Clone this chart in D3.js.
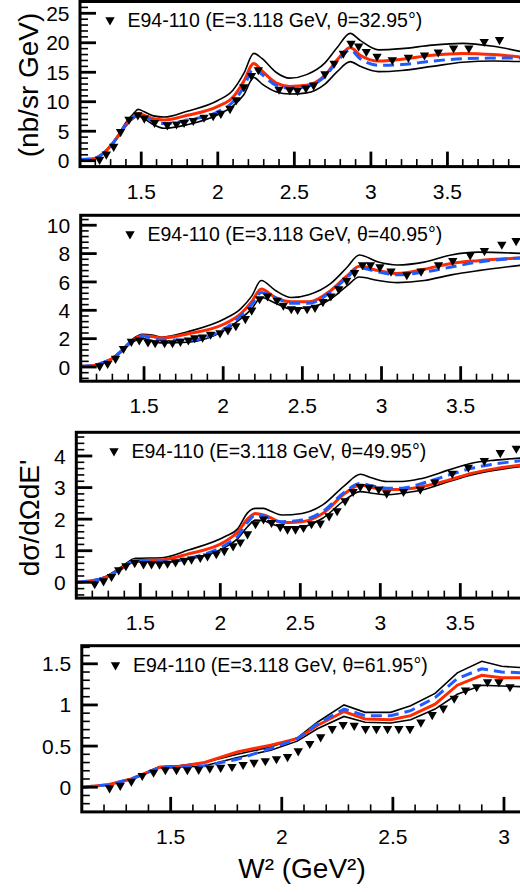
<!DOCTYPE html>
<html><head><meta charset="utf-8">
<script src="https://cdn.jsdelivr.net/npm/d3@7"></script>
<style>body{margin:0;background:#fff}svg{display:block}text{font-family:"Liberation Sans",Arial,Helvetica,sans-serif;fill:#000}</style>
</head><body>
<script>
// ---------- data ----------
const legendLabels = ["E94-110 (E=3.118 GeV, θ=32.95°)","E94-110 (E=3.118 GeV, θ=40.95°)","E94-110 (E=3.118 GeV, θ=49.95°)","E94-110 (E=3.118 GeV, θ=61.95°)"];
const xTickLabels = [["1.5","2","2.5","3","3.5"],["1.5","2","2.5","3","3.5"],["1.5","2","2.5","3","3.5"],["1.5","2","2.5","3"]];
const yTickLabels = [["0","5","10","15","20","25"],["0","2","4","6","8","10"],["0","1","2","3","4"],["0","0.5","1","1.5"]];

// panel 1 (θ=32.95°)
const p1W2 = [1.10,1.18,1.25,1.30,1.35,1.40,1.45,1.48,1.52,1.58,1.65,1.80,2.00,2.10,2.17,2.235,2.29,2.38,2.47,2.58,2.70,2.78,2.865,2.93,3.05,3.20,3.40,3.60,3.80,4.00];
const p1Upper = [0.2,0.35,1.3,2.6,4.4,6.5,8.0,8.7,8.3,7.6,7.4,8.4,10.2,12.0,14.8,18.2,17.3,15.0,14.0,14.6,16.6,19.2,21.6,20.4,18.8,19.0,19.6,19.9,19.4,18.4];
const p1Red   = [0.2,0.3,1.2,2.5,4.2,6.1,7.5,8.0,7.7,7.1,6.9,7.7,9.2,10.8,13.5,16.5,15.2,13.2,12.6,12.8,14.5,17.1,19.2,17.9,16.9,17.2,17.9,18.2,18.0,17.5];
const p1Blue  = [0.2,0.3,1.2,2.5,4.2,6.1,7.4,7.8,7.4,6.7,6.3,6.9,8.3,10.0,12.5,15.7,14.6,12.8,12.3,12.6,14.3,16.8,18.8,17.3,16.2,16.3,16.9,17.3,17.4,17.4];
const p1Lower = [0.2,0.3,1.1,2.4,4.0,5.9,7.2,7.6,7.1,6.1,5.5,6.1,7.8,9.3,11.2,14.1,13.0,11.7,11.3,11.5,13.0,15.1,16.8,16.0,15.1,15.3,16.0,16.7,16.9,16.8];
const p1DataW2 = [1.228,1.272,1.32,1.365,1.42,1.478,1.52,1.587,1.67,1.73,1.78,1.84,1.91,1.97,2.02,2.08,2.12,2.17,2.22,2.265,2.40,2.47,2.52,2.576,2.626,2.70,2.76,2.82,2.87,2.92,2.97,3.04,3.14,3.245,3.35,3.44,3.54,3.64,3.74,3.84];
const p1Data   = [0.2,1.1,2.4,4.9,7.0,7.75,7.2,6.45,6.05,6.2,6.45,6.8,7.35,7.6,8.0,8.8,10.3,12.5,14.4,15.4,12.1,12.0,11.9,12.3,12.8,14.7,16.5,18.2,19.9,19.4,18.5,17.7,17.1,17.5,17.9,18.4,19.1,19.1,20.2,20.5];

// panel 2 (θ=40.95°)
const p2W2 = [1.10,1.18,1.25,1.30,1.35,1.42,1.49,1.55,1.61,1.78,2.01,2.11,2.18,2.24,2.33,2.43,2.54,2.68,2.78,2.86,2.98,3.10,3.27,3.44,3.61,3.90];
const p2Upper = [0.05,0.1,0.35,0.65,1.1,1.9,2.3,2.25,2.1,2.5,3.4,4.1,5.0,6.1,5.4,4.9,5.1,5.9,7.0,7.9,7.4,7.2,7.4,7.9,8.1,8.0];
const p2Red   = [0.05,0.1,0.35,0.6,1.05,1.8,2.2,2.15,2.05,2.35,3.05,3.75,4.6,5.5,4.9,4.6,4.6,5.4,6.4,7.1,6.8,6.6,6.9,7.3,7.5,7.7];
const p2Blue  = [0.05,0.1,0.35,0.6,1.05,1.8,2.2,2.0,1.9,1.9,2.7,3.6,4.4,5.25,4.9,4.5,4.5,5.3,6.3,7.0,6.7,6.5,6.7,7.05,7.4,7.7];
const p2Lower = [0.05,0.1,0.3,0.55,1.0,1.7,2.0,1.85,1.7,1.75,2.6,3.4,4.1,4.9,4.5,4.1,4.2,4.8,5.7,6.35,6.1,5.95,6.1,6.5,6.8,7.2];
const p2DataW2 = [1.22,1.27,1.32,1.37,1.42,1.47,1.525,1.57,1.63,1.68,1.73,1.78,1.82,1.87,1.92,1.98,2.03,2.08,2.14,2.18,2.23,2.28,2.34,2.38,2.43,2.47,2.53,2.58,2.63,2.68,2.73,2.78,2.83,2.88,2.93,2.99,3.06,3.16,3.25,3.36,3.45,3.56,3.65,3.76,3.85];
const p2Data   = [0.07,0.24,0.6,1.3,1.8,1.9,1.75,1.7,1.7,1.7,1.8,1.9,2.05,2.1,2.3,2.4,2.6,2.9,3.4,4.0,4.8,5.0,4.7,4.35,4.1,4.05,4.1,4.2,4.6,5.0,5.5,6.1,6.65,7.2,7.2,7.05,6.75,6.5,6.75,7.2,7.5,7.9,8.2,8.65,8.9];

// panel 3 (θ=49.95°)
const p3W2 = [1.10,1.18,1.28,1.385,1.47,1.635,1.80,2.03,2.11,2.17,2.22,2.27,2.32,2.385,2.51,2.64,2.78,2.875,2.95,3.04,3.135,3.26,3.43,3.57,3.72,3.90];
const p3Upper = [0,0.05,0.18,0.5,0.76,0.78,1.02,1.45,1.7,2.2,2.34,2.34,2.24,2.13,2.18,2.45,3.08,3.42,3.3,3.19,3.19,3.29,3.56,3.77,3.87,3.94];
const p3Red   = [0,0.04,0.15,0.45,0.69,0.71,0.9,1.29,1.6,2.0,2.18,2.13,2.03,1.89,1.92,2.18,2.82,3.08,3.0,2.94,2.94,3.03,3.24,3.45,3.6,3.72];
const p3Blue  = [0,0.04,0.15,0.45,0.69,0.65,0.76,1.18,1.47,1.9,2.13,2.11,1.99,1.92,1.97,2.24,2.87,3.13,3.05,2.98,2.98,3.13,3.4,3.61,3.75,3.86];
const p3Lower = [0,0.03,0.13,0.42,0.65,0.62,0.73,1.11,1.39,1.76,1.97,1.95,1.85,1.76,1.76,2.03,2.61,2.87,2.82,2.77,2.82,2.92,3.19,3.4,3.55,3.68];
const p3DataW2 = [1.215,1.27,1.32,1.365,1.41,1.465,1.52,1.57,1.62,1.67,1.72,1.775,1.82,1.875,1.92,1.975,2.025,2.08,2.125,2.17,2.22,2.27,2.32,2.375,2.42,2.47,2.52,2.57,2.625,2.68,2.73,2.78,2.83,2.875,2.93,2.99,3.04,3.145,3.25,3.34,3.45,3.55,3.65,3.75,3.85];
const p3Data   = [-0.05,0.04,0.18,0.39,0.52,0.62,0.58,0.58,0.57,0.6,0.64,0.69,0.73,0.78,0.83,0.9,1.0,1.15,1.27,1.53,1.85,2.0,1.89,1.76,1.68,1.68,1.73,1.85,1.87,2.1,2.26,2.58,2.87,3.03,3.0,2.95,2.82,2.87,2.94,3.17,3.45,3.64,3.85,4.1,4.24];

// panel 4 (θ=61.95°)
const p4W2 = [1.10,1.218,1.323,1.45,1.533,1.653,1.80,1.95,2.07,2.16,2.28,2.375,2.49,2.58,2.69,2.79,2.90,2.99,3.10];
const p4Upper = [0,0.03,0.1,0.25,0.26,0.3,0.4,0.49,0.6,0.79,1.0,0.91,0.91,0.99,1.14,1.39,1.53,1.47,1.45];
const p4Red   = [0,0.03,0.1,0.24,0.25,0.3,0.43,0.51,0.59,0.75,0.92,0.83,0.82,0.87,1.01,1.24,1.36,1.33,1.33];
const p4Blue  = [0,0.03,0.1,0.24,0.25,0.26,0.34,0.47,0.59,0.77,0.95,0.87,0.87,0.93,1.09,1.32,1.44,1.4,1.39];
const p4Lower = [0,0.03,0.1,0.24,0.24,0.26,0.36,0.45,0.56,0.71,0.86,0.79,0.78,0.82,0.95,1.13,1.24,1.23,1.22];
const p4DataW2 = [1.225,1.273,1.323,1.372,1.423,1.476,1.526,1.575,1.626,1.676,1.725,1.776,1.826,1.875,1.926,1.976,2.026,2.074,2.126,2.175,2.227,2.276,2.326,2.377,2.426,2.476,2.527,2.577,2.626,2.677,2.727,2.776,2.827,2.877,2.926,2.977,3.027];
const p4Data   = [-0.01,0.02,0.07,0.14,0.18,0.21,0.21,0.21,0.215,0.23,0.24,0.25,0.275,0.30,0.32,0.345,0.37,0.44,0.53,0.61,0.71,0.76,0.75,0.71,0.71,0.71,0.71,0.71,0.79,0.88,0.96,1.08,1.18,1.22,1.28,1.28,1.22];

// ---------- layout ----------
const W = 520, H = 892;
const panels = [
  {w2:p1W2, up:p1Upper, red:p1Red, blue:p1Blue, lo:p1Lower, dx:p1DataW2, dy:p1Data,
   xd:[1.1,4.0], yd:[-1,27], yMajor:5, yMinor:1, L:80, R:524, T:1.5, B:166.6, lgx:110, lgy:20, lin:false},
  {w2:p2W2, up:p2Upper, red:p2Red, blue:p2Blue, lo:p2Lower, dx:p2DataW2, dy:p2Data,
   xd:[1.1,3.9], yd:[-1,10.7], yMajor:2, yMinor:0.4, L:80.7, R:524, T:215.3, B:381.2, lgx:130, lgy:234, lin:false},
  {w2:p3W2, up:p3Upper, red:p3Red, blue:p3Blue, lo:p3Lower, dx:p3DataW2, dy:p3Data,
   xd:[1.1,3.9], yd:[-0.5,4.75], yMajor:1, yMinor:0.2, L:76.3, R:524.3, T:432.3, B:598.1, lgx:114, lgy:451, lin:false},
  {w2:p4W2, up:p4Upper, red:p4Red, blue:p4Blue, lo:p4Lower, dx:p4DataW2, dy:p4Data,
   xd:[1.1,3.1], yd:[-0.3,1.72], yMajor:0.5, yMinor:0.1, L:81.8, R:526.2, T:645.7, B:811.9, lgx:115.5, lgy:665, lin:true}
];

const svg = d3.select("body").append("svg").attr("width",W).attr("height",H);
const triSym = d3.symbol().type(d3.symbolTriangle).size(38);

panels.forEach((p,i)=>{
  const x = d3.scaleLinear().domain(p.xd).range([p.L,p.R]);
  const y = d3.scaleLinear().domain(p.yd).range([p.B,p.T]);
  const g = svg.append("g");
  const cid = "clip"+i;
  g.append("clipPath").attr("id",cid).append("rect")
    .attr("x",p.L).attr("y",p.T).attr("width",p.R-p.L).attr("height",p.B-p.T);
  const plot = g.append("g").attr("clip-path",`url(#${cid})`);
  const line = d3.line().x(d=>x(d[0])).y(d=>y(d[1]))
    .curve(p.lin ? d3.curveLinear : d3.curveMonotoneX);
  const mk = arr => p.w2.map((w,k)=>[w,arr[k]]);
  plot.append("path").attr("d",line(mk(p.up))).attr("fill","none").attr("stroke","#000").attr("stroke-width",1.6);
  plot.append("path").attr("d",line(mk(p.lo))).attr("fill","none").attr("stroke","#000").attr("stroke-width",1.6);
  plot.append("path").attr("d",line(mk(p.red))).attr("fill","none").attr("stroke","#ff2a00").attr("stroke-width",3);
  plot.append("path").attr("d",line(mk(p.blue))).attr("fill","none").attr("stroke","#1f5cff").attr("stroke-width",3)
    .attr("stroke-dasharray","11,6");
  plot.selectAll("path.tri").data(p.dx.map((w,k)=>[w,p.dy[k]])).enter().append("path")
    .attr("class","tri").attr("d",triSym).attr("fill","#000")
    .attr("transform",d=>`translate(${x(d[0])},${y(d[1])}) rotate(180)`);

  // ticks (inward)
  const tg = g.append("g").attr("stroke","#000");
  const eps = 1e-6;
  const xMinor = d3.range(Math.ceil(p.xd[0]*10-eps), Math.floor(p.xd[1]*10+eps)+1).map(v=>v/10);
  xMinor.forEach(v=>{
    const major = Math.abs(v*2 - Math.round(v*2))<1e-6;
    tg.append("line").attr("x1",x(v)).attr("x2",x(v)).attr("y1",p.B).attr("y2",p.B-(major?15:7.5))
      .attr("stroke-width",major?2.8:1.6);
  });
  const nMin = Math.ceil(p.yd[0]/p.yMinor-eps), nMax = Math.floor(p.yd[1]/p.yMinor+eps);
  d3.range(nMin,nMax+1).forEach(n=>{
    const v = n*p.yMinor;
    const r = v/p.yMajor;
    const major = Math.abs(r-Math.round(r))<1e-6;
    tg.append("line").attr("x1",p.L).attr("x2",p.L+(major?16:8)).attr("y1",y(v)).attr("y2",y(v))
      .attr("stroke-width",major?2.8:1.6);
  });
  // frame
  g.append("rect").attr("x",p.L).attr("y",p.T).attr("width",p.R-p.L).attr("height",p.B-p.T)
    .attr("fill","none").attr("stroke","#000").attr("stroke-width",3);
  // tick labels
  xTickLabels[i].forEach(t=>{
    g.append("text").attr("x",x(+t)).attr("y",p.B+32).attr("text-anchor","middle")
      .attr("font-size",21).text(t);
  });
  yTickLabels[i].forEach(t=>{
    g.append("text").attr("x",p.L-10.5).attr("y",y(+t)).attr("dy","0.36em").attr("text-anchor","end")
      .attr("font-size",21).text(t);
  });
  // legend
  g.append("path").attr("d",triSym).attr("fill","#000")
    .attr("transform",`translate(${p.lgx},${p.lgy}) rotate(180)`);
  g.append("text").attr("x",p.lgx+17.5).attr("y",p.lgy+7).attr("font-size",19.5).text(legendLabels[i]);
});

// axis titles
svg.append("text").attr("x",302).attr("y",878).attr("text-anchor","middle").attr("font-size",28).text("W² (GeV²)");
svg.append("text").attr("transform","translate(38,85) rotate(-90)").attr("text-anchor","middle").attr("font-size",28).text("(nb/sr GeV)");
svg.append("text").attr("transform","translate(39,518) rotate(-90)").attr("text-anchor","middle").attr("font-size",28).text("dσ/dΩdE'");
</script>
</body></html>
